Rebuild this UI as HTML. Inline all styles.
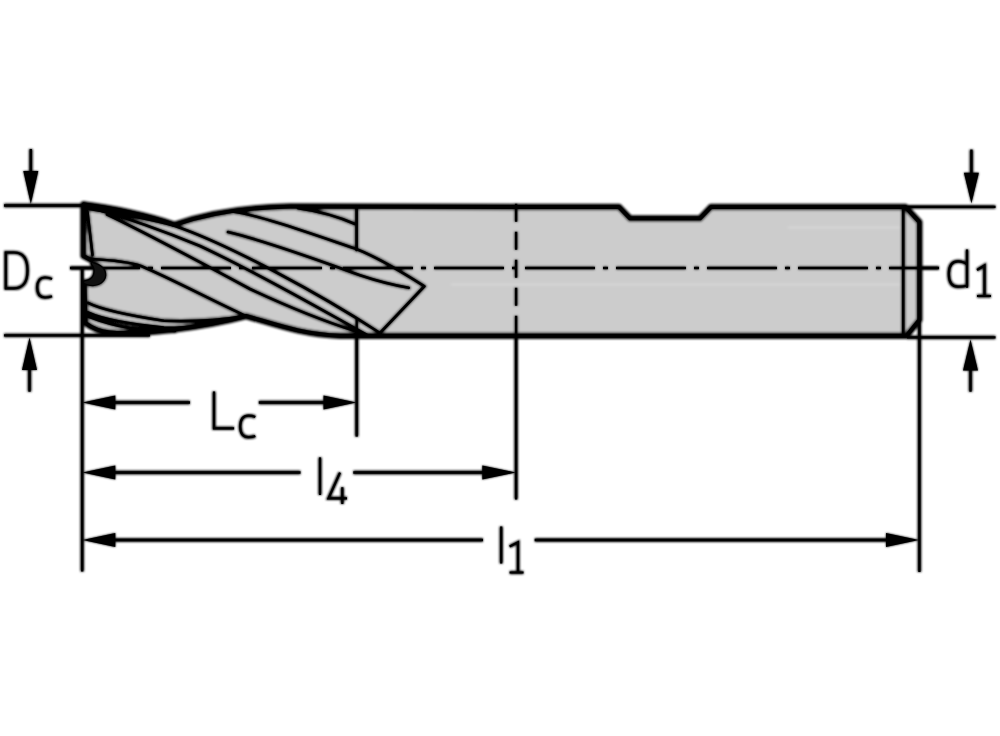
<!DOCTYPE html>
<html><head><meta charset="utf-8">
<style>
html,body{margin:0;padding:0;background:#fff;width:1000px;height:736px;overflow:hidden;font-family:"Liberation Sans",sans-serif;}
svg{display:block;}
.o{fill:none;stroke:#000;stroke-linejoin:round;stroke-linecap:round;}
.f{fill:none;stroke:#000;stroke-linejoin:round;stroke-linecap:round;}
.d{fill:none;stroke:#000;}
.c{fill:none;stroke:#000;}
.t{fill:none;stroke:#000;stroke-linejoin:miter;}
.A .o{stroke-width:6.50}
.A .f{stroke-width:4.40}
.A .d{stroke-width:3.80}
.A .c{stroke-width:4.00}
.A .t{stroke-width:3.60}
.B .o{stroke-width:3.90}
.B .f{stroke-width:2.64}
.B .d{stroke-width:2.28}
.B .c{stroke-width:2.40}
.B .t{stroke-width:2.16}
</style></head><body>
<svg width="1000" height="736" viewBox="0 0 1000 736">
<defs><filter id="bl" x="-2%" y="-2%" width="104%" height="104%"><feGaussianBlur stdDeviation="1.0"/></filter></defs>
<g class="A" filter="url(#bl)">
<!-- tool body fill -->
<path fill="#cccccc" d="M84,204.5 C110,207.5 150,216 174.5,224.8 C200,216 240,207.5 290,206.6 L619,207.1 L630,218.4 L700,218.4 L711,207.1 L905.5,207.1 L919.3,222 L919.3,320 L906.5,335.8 L340,335.8 C300,334 275,324 246,316 C200,328 140,335 110,332.5 C100,331.5 92,328 85.5,323 L84.5,282 C89,285.5 105,283 105.5,275 C106,270 101,265 92,263 L84,256 Z"/>
<!-- highlights -->
<g stroke="#d6d6d6" stroke-width="2" fill="none">
<line x1="788" y1="227.5" x2="900" y2="227.5"/>
<line x1="451" y1="284.6" x2="900" y2="284.6"/>
</g>
<!-- centre line -->
<line x1="70" y1="268" x2="939" y2="268" class="c" stroke-dasharray="70 8 5 8"/>
<!-- vertical dashed line -->
<line x1="516.1" y1="203.7" x2="516.1" y2="335" class="c" stroke-dasharray="18 10"/>
<!-- outline thick -->
<path class="o" d="M84,204.5 C110,207.5 150,216 174.5,224.8 C200,216 240,207.5 290,206.6 L619,207.1 L630,218.4 L700,218.4 L711,207.1 L905.5,207.1 L919.3,222 L919.3,320 L906.5,335.8 L340,335.8 C300,334 275,324 246,316 C200,328 140,335 110,332.5 C100,331.5 92,328 85.5,323 L84.5,284"/>
<path class="o" d="M83.5,204.5 L83.5,256 L91,260"/>
<!-- thin flute lines -->
<g class="f">
<path d="M87.5,212 L92.5,255"/>
<path d="M90,259 C110,260 130,262 141,266 C170,278 215,302 246,316"/>
<path d="M92,263 C101,265 105.5,270 105,275.5 C104.5,281 99,285 93,285 C89,285 86,284 84,282.5"/>
<path d="M92,264 C95,267 95.5,272 94,275.5 C92.5,279 89,281 84.5,281.5"/>
<path fill="#111" stroke="none" d="M92,263 C101,265 105.5,270 105,275.5 C104.5,281 99,285 93,285 C89,285 86,284 84,282.5 L84.5,281.5 C89,281 92.5,279 94,275.5 C95.5,272 95,267 92,264 Z"/>
<path d="M86,208.5 C115,213 155,220 175,226 C230,245 320,294 380,333"/>
<path d="M95,209 C120,216 160,229.5 200,246 C260,274 320,309 368,335.5"/>
<path d="M107,214.5 C140,230 200,262 250,289 C280,303 320,320 355,331"/>
<path d="M228,232 C270,242 320,261 360,275.3 C380,282 395,285.5 408.75,287.8"/>
<path d="M232,211.5 C258,214.5 315,235 355,248.5 C380,258 405,274 424.4,286.25 L380,333"/>
<path d="M298,208.2 C318,211 338,216.5 355,224"/>
<path d="M88,302.8 C100,309 120,314 164,320.8 C190,322 220,320 246,316"/>
<path d="M88,312.4 C100,318 120,323 164,327.6 C180,328.5 195,327 205,325"/>
<path d="M88,316.4 C100,321 115,325.5 130,328 C145,330 160,331 175,331"/>
<path d="M903.2,207 L903.2,335.5"/>
<path d="M356.6,208 L356.6,250"/>
</g>
<!-- dimension lines -->
<g class="d">
<line x1="4" y1="205.5" x2="84" y2="205.5"/>
<line x1="4" y1="335.4" x2="150" y2="335.4"/>
<line x1="904" y1="206.85" x2="995.5" y2="206.85"/>
<line x1="907" y1="337.3" x2="995.5" y2="337.3"/>
<line x1="30.8" y1="149" x2="30.8" y2="180"/>
<line x1="29.5" y1="360" x2="29.5" y2="391.7"/>
<line x1="971.4" y1="149.6" x2="971.4" y2="180"/>
<line x1="970.5" y1="360" x2="970.5" y2="391.7"/>
<line x1="82.2" y1="269" x2="82.2" y2="571.6"/>
<line x1="356.7" y1="319" x2="356.7" y2="436.6"/>
<line x1="516.1" y1="335" x2="516.1" y2="499.5"/>
<line x1="919.4" y1="320" x2="919.4" y2="572"/>
<line x1="100" y1="402.5" x2="190" y2="402.5"/>
<line x1="258.8" y1="402.5" x2="340" y2="402.5"/>
<line x1="100" y1="472.5" x2="300.5" y2="472.5"/>
<line x1="353.3" y1="472.5" x2="500" y2="472.5"/>
<line x1="100" y1="540" x2="483" y2="540"/>
<line x1="534.7" y1="540" x2="900" y2="540"/>
</g>
<!-- arrowheads -->
<g fill="#000">
<polygon points="30.8,204 23.3,171 38.3,171"/>
<polygon points="29.5,337.4 22,370 37,370"/>
<polygon points="971.4,203.4 963.9,172.8 978.9,172.8"/>
<polygon points="970.5,339.6 963,370.5 978,370.5"/>
<polygon points="82.5,402.5 115.3,395.5 115.3,409.5"/>
<polygon points="356.5,402.5 323.5,395.5 323.5,409.5"/>
<polygon points="82.5,472.5 115.3,465.5 115.3,479.5"/>
<polygon points="515.8,472.5 482.3,465.5 482.3,479.5"/>
<polygon points="82.5,540 115.3,533 115.3,547"/>
<polygon points="919,540 886,533 886,547"/>
</g>
<!-- labels -->
<g class="t">
<path d="M5.8,252.5 L5.8,288.3 L14,288.3 C23,288.3 27.5,282 27.5,270.4 C27.5,258.8 23,252.5 14,252.5 Z"/>
<path d="M52,279 C49,277.5 47,277.5 45,277.5 C39.5,277.5 37.2,282 37.2,287.6 C37.2,293.3 39.5,297.5 45,297.5 C47,297.5 49,297.5 52,296.2"/>
<path d="M214,391.5 L214,428.3 L234.1,428.3"/>
<path d="M255.3,417 C252.5,415.8 250.5,415.7 248.5,415.7 C243,415.7 240.2,420 240.2,426.6 C240.2,433 243,437.2 248.5,437.2 C250.5,437.2 252.5,437.2 255.3,436"/>
<path d="M320,457.4 L320,495"/>
<path d="M340,472.6 L328.5,498.3 L347,498.3 M342.3,487.3 L342.3,504"/>
<path d="M501.2,526.5 L501.2,563.5"/>
<path d="M509.6,546.5 L518,542.3 L518,572.5 M509.6,572.5 L523.5,572.5"/>
<path d="M967,249.5 L967,287.8 M967,264.5 C964.5,262 961.5,261.3 958,261.3 C951.5,261.3 948.8,265.5 948.8,274 C948.8,282.5 951.5,286.7 958,286.7 C961.5,286.7 964.5,286.3 967,285.8"/>
<path d="M977,270 L984.5,265.5 L984.5,296 M977,296 L991,296"/>
</g>
</g>
<g class="B">
<!-- centre line -->
<line x1="70" y1="268" x2="939" y2="268" class="c" stroke-dasharray="70 8 5 8"/>
<!-- vertical dashed line -->
<line x1="516.1" y1="203.7" x2="516.1" y2="335" class="c" stroke-dasharray="18 10"/>
<!-- outline thick -->
<path class="o" d="M84,204.5 C110,207.5 150,216 174.5,224.8 C200,216 240,207.5 290,206.6 L619,207.1 L630,218.4 L700,218.4 L711,207.1 L905.5,207.1 L919.3,222 L919.3,320 L906.5,335.8 L340,335.8 C300,334 275,324 246,316 C200,328 140,335 110,332.5 C100,331.5 92,328 85.5,323 L84.5,284"/>
<path class="o" d="M83.5,204.5 L83.5,256 L91,260"/>
<!-- thin flute lines -->
<g class="f">
<path d="M87.5,212 L92.5,255"/>
<path d="M90,259 C110,260 130,262 141,266 C170,278 215,302 246,316"/>
<path d="M92,263 C101,265 105.5,270 105,275.5 C104.5,281 99,285 93,285 C89,285 86,284 84,282.5"/>
<path d="M92,264 C95,267 95.5,272 94,275.5 C92.5,279 89,281 84.5,281.5"/>
<path fill="#111" stroke="none" d="M92,263 C101,265 105.5,270 105,275.5 C104.5,281 99,285 93,285 C89,285 86,284 84,282.5 L84.5,281.5 C89,281 92.5,279 94,275.5 C95.5,272 95,267 92,264 Z"/>
<path d="M86,208.5 C115,213 155,220 175,226 C230,245 320,294 380,333"/>
<path d="M95,209 C120,216 160,229.5 200,246 C260,274 320,309 368,335.5"/>
<path d="M107,214.5 C140,230 200,262 250,289 C280,303 320,320 355,331"/>
<path d="M228,232 C270,242 320,261 360,275.3 C380,282 395,285.5 408.75,287.8"/>
<path d="M232,211.5 C258,214.5 315,235 355,248.5 C380,258 405,274 424.4,286.25 L380,333"/>
<path d="M298,208.2 C318,211 338,216.5 355,224"/>
<path d="M88,302.8 C100,309 120,314 164,320.8 C190,322 220,320 246,316"/>
<path d="M88,312.4 C100,318 120,323 164,327.6 C180,328.5 195,327 205,325"/>
<path d="M88,316.4 C100,321 115,325.5 130,328 C145,330 160,331 175,331"/>
<path d="M903.2,207 L903.2,335.5"/>
<path d="M356.6,208 L356.6,250"/>
</g>
<!-- dimension lines -->
<g class="d">
<line x1="4" y1="205.5" x2="84" y2="205.5"/>
<line x1="4" y1="335.4" x2="150" y2="335.4"/>
<line x1="904" y1="206.85" x2="995.5" y2="206.85"/>
<line x1="907" y1="337.3" x2="995.5" y2="337.3"/>
<line x1="30.8" y1="149" x2="30.8" y2="180"/>
<line x1="29.5" y1="360" x2="29.5" y2="391.7"/>
<line x1="971.4" y1="149.6" x2="971.4" y2="180"/>
<line x1="970.5" y1="360" x2="970.5" y2="391.7"/>
<line x1="82.2" y1="269" x2="82.2" y2="571.6"/>
<line x1="356.7" y1="319" x2="356.7" y2="436.6"/>
<line x1="516.1" y1="335" x2="516.1" y2="499.5"/>
<line x1="919.4" y1="320" x2="919.4" y2="572"/>
<line x1="100" y1="402.5" x2="190" y2="402.5"/>
<line x1="258.8" y1="402.5" x2="340" y2="402.5"/>
<line x1="100" y1="472.5" x2="300.5" y2="472.5"/>
<line x1="353.3" y1="472.5" x2="500" y2="472.5"/>
<line x1="100" y1="540" x2="483" y2="540"/>
<line x1="534.7" y1="540" x2="900" y2="540"/>
</g>
<!-- arrowheads -->
<g fill="#000">
<polygon points="30.8,204 23.3,171 38.3,171"/>
<polygon points="29.5,337.4 22,370 37,370"/>
<polygon points="971.4,203.4 963.9,172.8 978.9,172.8"/>
<polygon points="970.5,339.6 963,370.5 978,370.5"/>
<polygon points="82.5,402.5 115.3,395.5 115.3,409.5"/>
<polygon points="356.5,402.5 323.5,395.5 323.5,409.5"/>
<polygon points="82.5,472.5 115.3,465.5 115.3,479.5"/>
<polygon points="515.8,472.5 482.3,465.5 482.3,479.5"/>
<polygon points="82.5,540 115.3,533 115.3,547"/>
<polygon points="919,540 886,533 886,547"/>
</g>
<!-- labels -->
<g class="t">
<path d="M5.8,252.5 L5.8,288.3 L14,288.3 C23,288.3 27.5,282 27.5,270.4 C27.5,258.8 23,252.5 14,252.5 Z"/>
<path d="M52,279 C49,277.5 47,277.5 45,277.5 C39.5,277.5 37.2,282 37.2,287.6 C37.2,293.3 39.5,297.5 45,297.5 C47,297.5 49,297.5 52,296.2"/>
<path d="M214,391.5 L214,428.3 L234.1,428.3"/>
<path d="M255.3,417 C252.5,415.8 250.5,415.7 248.5,415.7 C243,415.7 240.2,420 240.2,426.6 C240.2,433 243,437.2 248.5,437.2 C250.5,437.2 252.5,437.2 255.3,436"/>
<path d="M320,457.4 L320,495"/>
<path d="M340,472.6 L328.5,498.3 L347,498.3 M342.3,487.3 L342.3,504"/>
<path d="M501.2,526.5 L501.2,563.5"/>
<path d="M509.6,546.5 L518,542.3 L518,572.5 M509.6,572.5 L523.5,572.5"/>
<path d="M967,249.5 L967,287.8 M967,264.5 C964.5,262 961.5,261.3 958,261.3 C951.5,261.3 948.8,265.5 948.8,274 C948.8,282.5 951.5,286.7 958,286.7 C961.5,286.7 964.5,286.3 967,285.8"/>
<path d="M977,270 L984.5,265.5 L984.5,296 M977,296 L991,296"/>
</g>
</g>
</svg>
</body></html>
